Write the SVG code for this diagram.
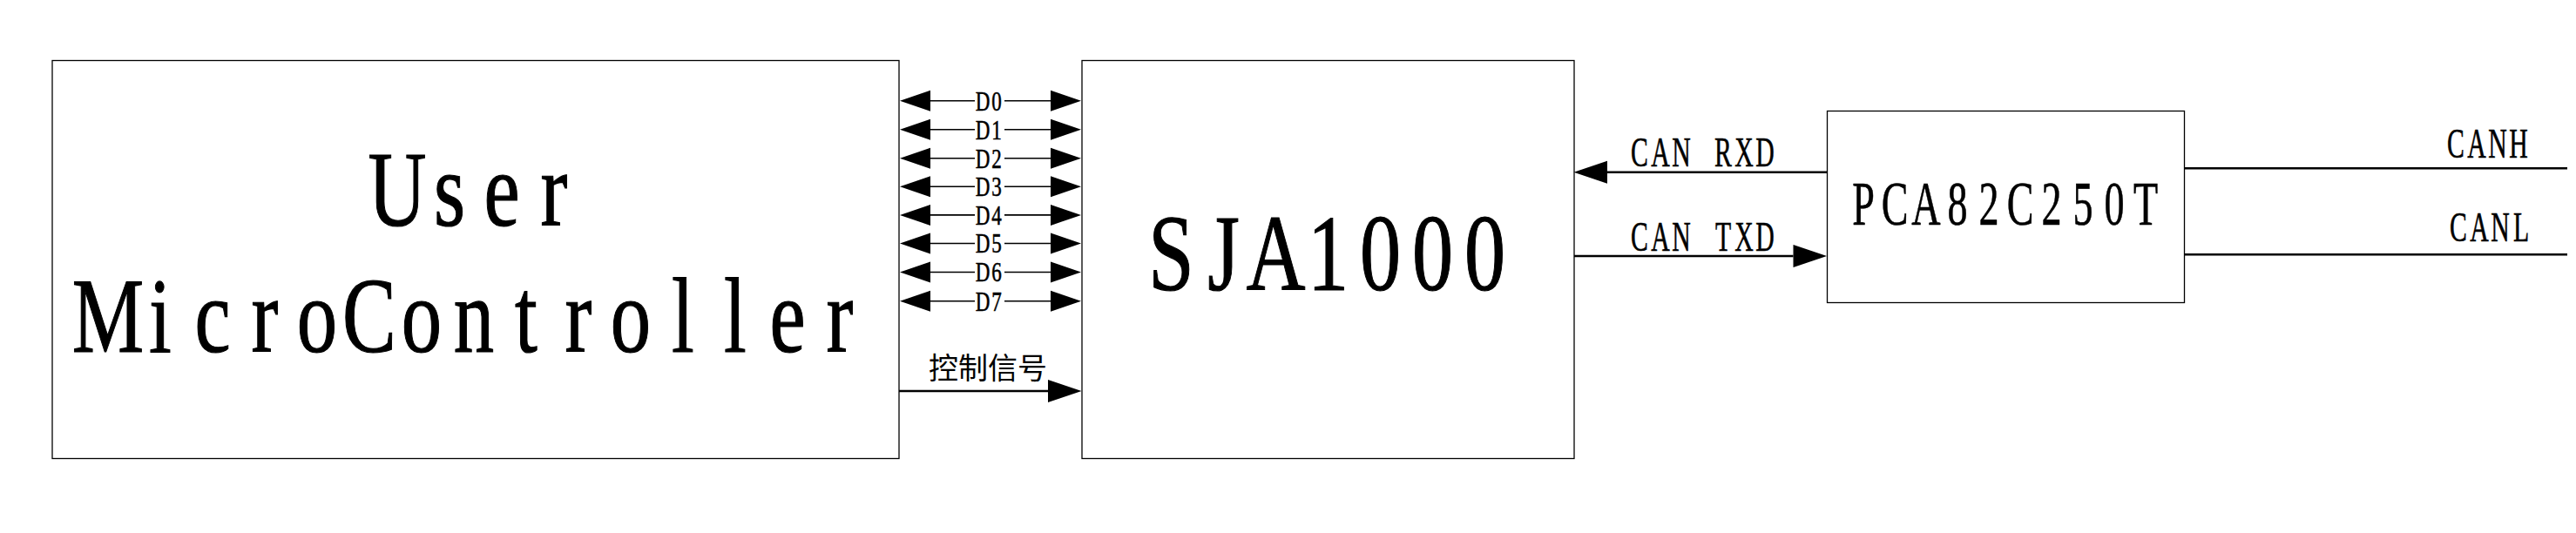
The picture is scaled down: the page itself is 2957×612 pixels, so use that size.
<svg xmlns="http://www.w3.org/2000/svg" width="2957" height="612" viewBox="0 0 2957 612">
<style>
.box{fill:#fff;stroke:#000;stroke-width:1.3}
.t{font-family:"Liberation Serif","Times New Roman",serif;fill:#000;text-anchor:middle}
.big{stroke:#000;stroke-width:1.2}
.mid{stroke:#000;stroke-width:0.6}
.cjk{font-family:"Liberation Serif","Noto Sans CJK SC",sans-serif;fill:#000;text-anchor:middle}
.d{stroke:#000;stroke-width:1.6;fill:none}
.w{stroke:#000;stroke-width:2.4;fill:none}
</style>
<defs>
<marker id="ah" markerUnits="userSpaceOnUse" markerWidth="36" markerHeight="26" refX="0" refY="12" orient="auto" overflow="visible">
<path d="M0,0 L35,12 L0,24 Z" fill="#000"/>
</marker>
<marker id="ahL" markerUnits="userSpaceOnUse" markerWidth="40" markerHeight="28" refX="0" refY="13" orient="auto" overflow="visible">
<path d="M0,0 L38.5,13 L0,26 Z" fill="#000"/>
</marker>
</defs>
<rect width="2957" height="612" fill="#fff"/>

<g id="mcu">
<rect class="box" x="60" y="69.5" width="972" height="457"/>
<text class="t big" font-size="122" transform="translate(546,0) scale(0.76,1)" x="-118.42 -39.47 39.47 118.42" y="259">User</text>
<text class="t big" font-size="122" transform="translate(544,0) scale(0.76,1)" x="-552.63 -473.68 -394.74 -315.79 -236.84 -157.89 -78.95 0 78.95 157.89 236.84 315.79 394.74 473.68 552.63" y="404">MicroController</text>
</g>

<g id="sja1000">
<rect class="box" x="1242" y="69.5" width="565" height="457"/>
<text class="t big" font-size="124" transform="translate(1524.5,0) scale(0.76,1)" x="-236.84 -157.89 -78.95 0 78.95 157.89 236.84" y="333">SJA1000</text>
</g>

<g id="pca82c250t">
<rect class="box" x="2097.5" y="127.5" width="410" height="220"/>
<text class="t mid" font-size="72" transform="translate(2301,0) scale(0.64,1)" x="-253.13 -196.88 -140.63 -84.38 -28.13 28.13 84.38 140.63 196.88 253.13" y="258.3">PCA82C250T</text>
</g>

<g id="connectors">
<g id="data-bus">
<path class="d" d="M1119,115.7 H1068" marker-end="url(#ah)"/>
<path class="d" d="M1153,115.7 H1206" marker-end="url(#ah)"/>
<path class="d" d="M1119,148.7 H1068" marker-end="url(#ah)"/>
<path class="d" d="M1153,148.7 H1206" marker-end="url(#ah)"/>
<path class="d" d="M1119,181.7 H1068" marker-end="url(#ah)"/>
<path class="d" d="M1153,181.7 H1206" marker-end="url(#ah)"/>
<path class="d" d="M1119,214.3 H1068" marker-end="url(#ah)"/>
<path class="d" d="M1153,214.3 H1206" marker-end="url(#ah)"/>
<path class="d" d="M1119,246.9 H1068" marker-end="url(#ah)"/>
<path class="d" d="M1153,246.9 H1206" marker-end="url(#ah)"/>
<path class="d" d="M1119,279.5 H1068" marker-end="url(#ah)"/>
<path class="d" d="M1153,279.5 H1206" marker-end="url(#ah)"/>
<path class="d" d="M1119,312.5 H1068" marker-end="url(#ah)"/>
<path class="d" d="M1153,312.5 H1206" marker-end="url(#ah)"/>
<path class="d" d="M1119,345.7 H1068" marker-end="url(#ah)"/>
<path class="d" d="M1153,345.7 H1206" marker-end="url(#ah)"/>
<text class="t mid" font-size="32" transform="translate(1136,0) scale(0.72,1)" x="-11.11 11.11" y="126.7">D0</text>
<text class="t mid" font-size="32" transform="translate(1136,0) scale(0.72,1)" x="-11.11 11.11" y="159.7">D1</text>
<text class="t mid" font-size="32" transform="translate(1136,0) scale(0.72,1)" x="-11.11 11.11" y="192.7">D2</text>
<text class="t mid" font-size="32" transform="translate(1136,0) scale(0.72,1)" x="-11.11 11.11" y="225.3">D3</text>
<text class="t mid" font-size="32" transform="translate(1136,0) scale(0.72,1)" x="-11.11 11.11" y="257.9">D4</text>
<text class="t mid" font-size="32" transform="translate(1136,0) scale(0.72,1)" x="-11.11 11.11" y="290.5">D5</text>
<text class="t mid" font-size="32" transform="translate(1136,0) scale(0.72,1)" x="-11.11 11.11" y="323.5">D6</text>
<text class="t mid" font-size="32" transform="translate(1136,0) scale(0.72,1)" x="-11.11 11.11" y="356.7">D7</text>
</g>
<g id="ctrl">
<path class="w" d="M1032,449 H1203" marker-end="url(#ahL)"/>
<text class="cjk" font-size="34" x="1134" y="435">控制信号</text>
</g>
<g id="can-rxd">
<path class="w" d="M2097,197.7 H1845" marker-end="url(#ahL)"/>
<text class="t mid" font-size="48" transform="translate(1954,0) scale(0.62,1)" x="-116.13 -77.42 -38.71 0 38.71 77.42 116.13" y="191">CAN RXD</text>
</g>
<g id="can-txd">
<path class="w" d="M1807,294 H2058.5" marker-end="url(#ahL)"/>
<text class="t mid" font-size="48" transform="translate(1954,0) scale(0.62,1)" x="-116.13 -77.42 -38.71 0 38.71 77.42 116.13" y="288.3">CAN TXD</text>
</g>
<g id="canh">
<path class="w" d="M2507.5,193.3 H2947"/>
<text class="t mid" font-size="48" transform="translate(2855,0) scale(0.62,1)" x="-58.06 -19.35 19.35 58.06" y="180.7">CANH</text>
</g>
<g id="canl">
<path class="w" d="M2507.5,292.3 H2947"/>
<text class="t mid" font-size="48" transform="translate(2858,0) scale(0.62,1)" x="-58.06 -19.35 19.35 58.06" y="276.7">CANL</text>
</g>
</g>
</svg>
